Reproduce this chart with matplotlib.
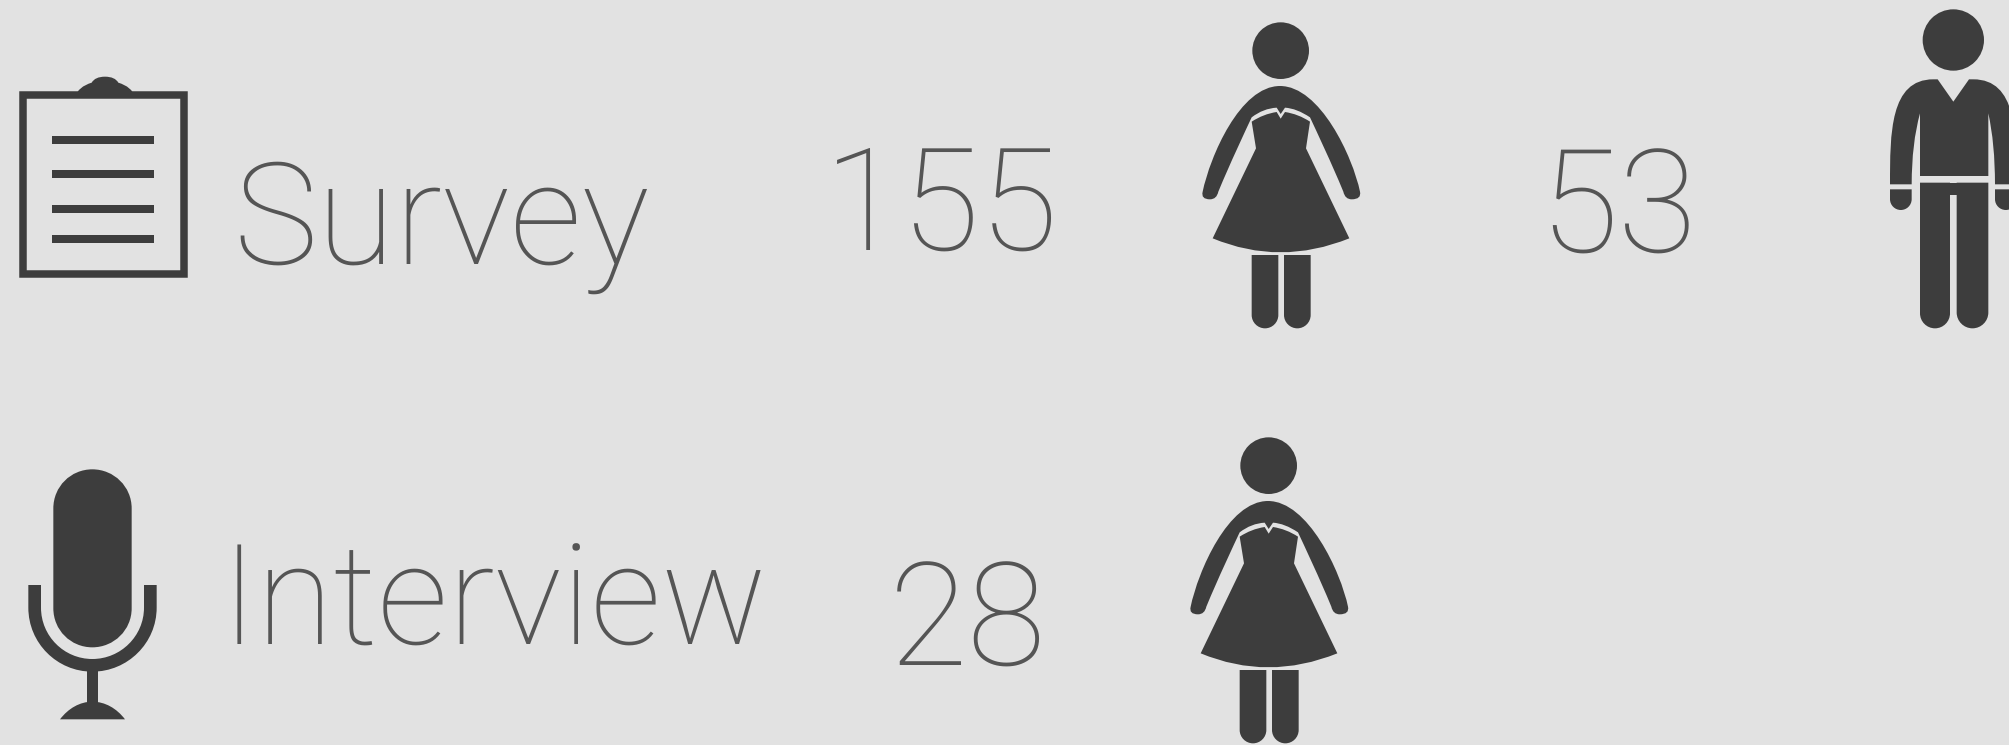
# -*- coding: utf-8 -*-
"""
Survey / interview participants, pictogram layout
"""
from matplotlib import pyplot as plt
from matplotlib.path import Path
from matplotlib.patches import PathPatch, Circle, Rectangle

methods = ['Survey', 'Interview']
female_counts = ['155', '28']
male_counts = ['53']

BG = '#e2e2e2'
DARK = '#3d3d3d'
TXT = '#555555'

plt.rcParams['text.hinting'] = 'no_hinting'
plt.rcParams['text.hinting_factor'] = 1

fig = plt.figure(figsize=(20.09, 7.45), dpi=100, facecolor=BG)
ax = fig.add_axes([0, 0, 1, 1])
ax.set_xlim(0, 2009)
ax.set_ylim(745, 0)
ax.axis('off')


# Draw a filled shape from segments given in zoomed (3x) crop coordinates
def shape(ox, oy, segs):
    verts, codes = [], []
    for s in segs:
        pts = [(ox + s[i] / 3, oy + s[i + 1] / 3) for i in range(0, len(s), 2)]
        if not verts:
            codes.append(Path.MOVETO)
        elif len(pts) == 1:
            codes.append(Path.LINETO)
        elif len(pts) == 2:
            codes += [Path.CURVE3] * 2
        else:
            codes += [Path.CURVE4] * 3
        verts += pts
    ax.add_patch(PathPatch(Path(verts, codes), fc=DARK, ec='none'))


def head(ox, oy, cx, cy, r):
    ax.add_patch(Circle((ox + cx / 3, oy + cy / 3), r / 3, fc=DARK, ec='none'))


# Bar with a half round bottom end, used for legs and hands
def rounded_leg(x0, x1, top, bottom):
    r = (x1 - x0) / 2
    k = r * 0.55
    mid = (x0 + x1) / 2
    return [(x0, top), (x1, top), (x1, bottom - r),
            (x1, bottom - r + k, mid + k, bottom, mid, bottom),
            (mid - k, bottom, x0, bottom - r + k, x0, bottom - r)]


def woman(ox, oy):
    head(ox, oy, 302, 122, 85)
    # arms
    shape(ox, oy, [(68, 545), (90, 440, 180, 228, 300, 228), (420, 228, 518, 440, 540, 545),
                   (545, 568, 515, 568), (495, 568, 490, 545), (455, 460, 410, 365, 390, 322),
                   (350, 295, 315, 293), (302, 312), (290, 293), (250, 295, 215, 322),
                   (195, 365, 150, 460, 115, 545), (110, 568, 90, 568), (62, 568, 68, 545)])
    # dress
    shape(ox, oy, [(215, 335), (250, 312, 290, 306), (302, 326), (315, 306), (355, 312, 390, 335),
                   (378, 415), (508, 685), (300, 769, 98, 685), (228, 415)])
    # legs
    for x0 in (215, 312):
        shape(ox, oy, rounded_leg(x0, x0 + 80, 735, 955))


def man(ox, oy):
    head(ox, oy, 250, 120, 92)
    # shirt and arms
    shape(ox, oy, [(60, 553), (60, 400, 60, 238, 190, 238), (203, 238), (250, 305),
                   (297, 238), (310, 238), (440, 238, 440, 400, 440, 553), (375, 553),
                   (375, 430, 355, 340), (355, 528), (150, 528), (150, 340),
                   (125, 430, 125, 553)])
    # hands
    shape(ox, oy, rounded_leg(60, 125, 568, 630))
    shape(ox, oy, rounded_leg(375, 440, 568, 630))
    # trousers, one path per leg plus the seat
    shape(ox, oy, rounded_leg(150, 240, 548, 985))
    shape(ox, oy, rounded_leg(260, 355, 548, 985))
    shape(ox, oy, [(240, 548), (260, 548), (260, 585), (240, 585)])


def clipboard(ox, oy):
    ax.add_patch(Rectangle((ox + 68 / 3, oy + 105 / 3), 484 / 3, 537 / 3, fc='none', ec=DARK, lw=5.4))
    shape(ox, oy, [(225, 110), (235, 80, 275, 68), (285, 50, 315, 50), (345, 50, 355, 68),
                   (395, 80, 405, 110)])
    for y in (240, 342, 448, 537):
        shape(ox, oy, [(155, y - 12), (462, y - 12), (462, y + 12), (155, y + 12)])


def microphone(ox, oy):
    shape(ox, oy, [(130, 145), (130, 80, 182, 28, 247, 28), (312, 28, 365, 80, 365, 145), (365, 445),
                   (365, 510, 312, 562, 247, 562), (182, 562, 130, 510, 130, 445)])
    shape(ox, oy, [(55, 375), (93, 375), (93, 443), (93, 528, 162, 597, 247, 597),
                   (332, 597, 402, 528, 402, 443), (402, 375), (440, 375), (440, 443),
                   (440, 549, 353, 635, 247, 635), (141, 635, 55, 549, 55, 443)])
    shape(ox, oy, [(230, 630), (265, 630), (265, 730), (230, 730)])
    shape(ox, oy, [(150, 778), (175, 745, 210, 725, 247, 725), (285, 725, 320, 745, 345, 778)])


clipboard(0, 60)
microphone(10, 460)
woman(1180, 10)
woman(1168, 425)
man(1870, 0)

font = dict(family='Roboto', fontweight='light', color=TXT, va='baseline')
ax.text(233, 264, methods[0], fontsize=102, ha='left', **font)
ax.text(221, 645, methods[1], fontsize=101, ha='left', **font)
ax.text(941, 251, female_counts[0], fontsize=103, ha='center', **font)
ax.text(1618, 253, male_counts[0], fontsize=104, ha='center', **font)
ax.text(968, 666, female_counts[1], fontsize=104, ha='center', **font)

fig.savefig('out.png', dpi=100, facecolor=BG)
